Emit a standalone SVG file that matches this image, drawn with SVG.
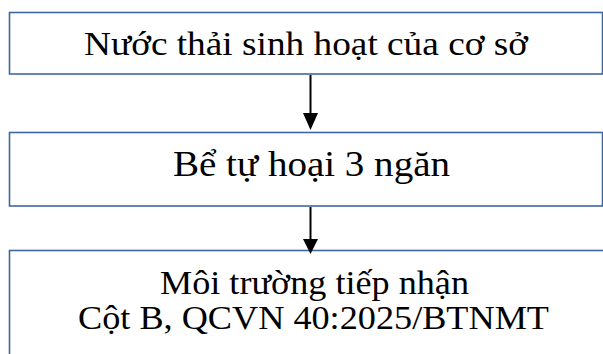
<svg xmlns="http://www.w3.org/2000/svg" width="603" height="354" viewBox="0 0 603 354">
  <style>
    .box { fill: #ffffff; stroke: #41679f; stroke-width: 1.6; }
    .label { font-family: "Liberation Serif", "Times New Roman", serif; fill: #000000; text-anchor: middle; }
    .flow { stroke: #000000; stroke-width: 2; fill: none; }
  </style>
  <rect width="603" height="354" fill="#ffffff"/>

  <g id="node-wastewater">
    <rect class="box" x="9.5" y="12.5" width="593" height="61.5"/>
    <text class="label" x="306" y="55" font-size="33" textLength="444" lengthAdjust="spacingAndGlyphs">Nước thải sinh hoạt của cơ sở</text>
  </g>

  <g id="node-septic-tank">
    <rect class="box" x="9.5" y="132.5" width="593" height="73.5"/>
    <text class="label" x="311.5" y="175.5" font-size="35" textLength="277" lengthAdjust="spacingAndGlyphs">Bể tự hoại 3 ngăn</text>
  </g>

  <g id="node-receiving">
    <rect class="box" x="9.5" y="250.5" width="600" height="120"/>
    <text class="label" x="314.5" y="294.3" font-size="34" textLength="309" lengthAdjust="spacingAndGlyphs">Môi trường tiếp nhận</text>
    <text class="label" x="313.5" y="329.3" font-size="34" textLength="471" lengthAdjust="spacingAndGlyphs">Cột B, QCVN 40:2025/BTNMT</text>
  </g>

  <g id="connectors">
    <line class="flow" x1="310.5" y1="75" x2="310.5" y2="114"/>
    <polygon points="303,113 318,113 310.5,130" fill="#000000"/>
    <line class="flow" x1="310.5" y1="207" x2="310.5" y2="240"/>
    <polygon points="303,239 318,239 310.5,254" fill="#000000"/>
  </g>
</svg>
